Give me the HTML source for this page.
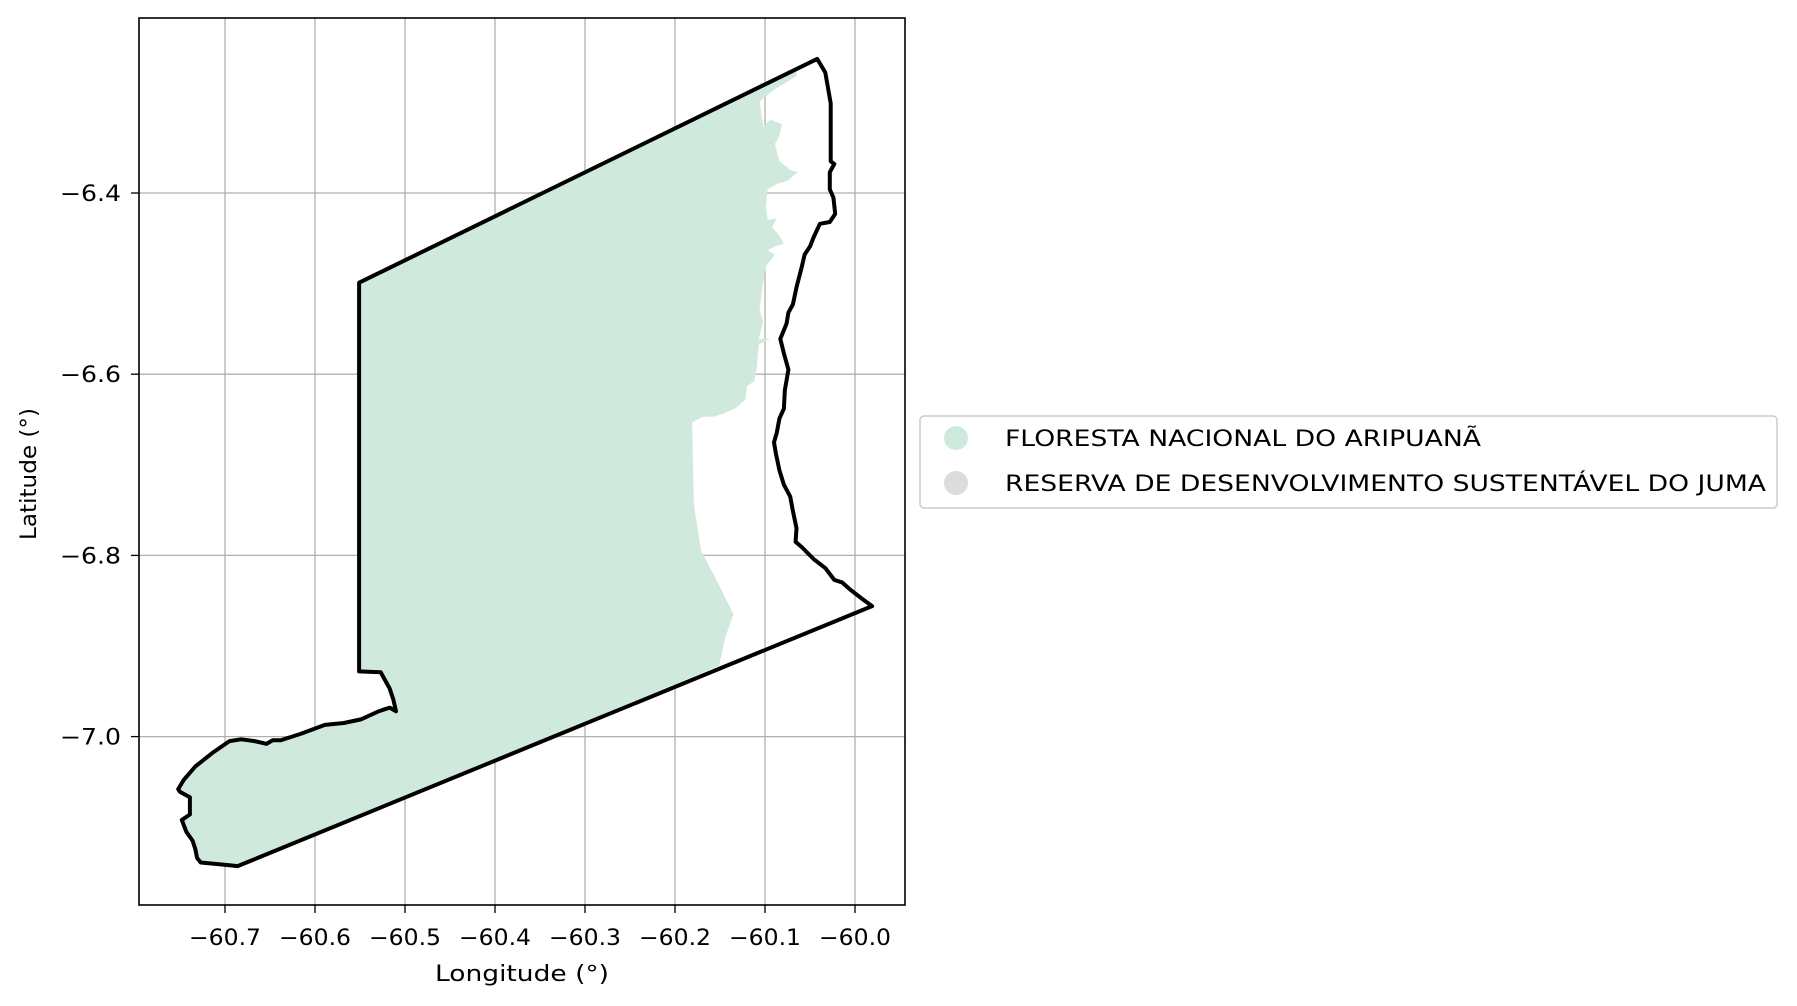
<!DOCTYPE html>
<html><head><meta charset="utf-8"><style>
html,body{margin:0;padding:0;background:#fff;}
svg{display:block;font-family:"DejaVu Sans","Liberation Sans",sans-serif;}
</style></head><body>
<svg id="chart" width="1797" height="1006" viewBox="0 0 1797 1006">
<g id="grid"></g>
<g id="shapes"></g>
<rect x="139" y="18" width="766" height="887" fill="none" stroke="#000" stroke-width="1.6"/>
<g id="ticks"></g>
<text x="522" y="981" font-size="22" text-anchor="middle" textLength="174" lengthAdjust="spacingAndGlyphs">Longitude (°)</text>
<text x="0" y="0" font-size="22" text-anchor="middle" textLength="132" lengthAdjust="spacingAndGlyphs" transform="translate(36,474) rotate(-90)">Latitude (°)</text>
<g>
<rect x="920" y="416" width="857" height="92" rx="4" fill="#fff" stroke="#ccc" stroke-width="1.5"/>
<circle cx="956" cy="438" r="12" fill="#cfeadd"/>
<text x="1005" y="446" font-size="22" textLength="476" lengthAdjust="spacingAndGlyphs">FLORESTA NACIONAL DO ARIPUANÃ</text>
<circle cx="956" cy="483" r="12" fill="#dcdcdc"/>
<text x="1005" y="491" font-size="22" textLength="761" lengthAdjust="spacingAndGlyphs">RESERVA DE DESENVOLVIMENTO SUSTENTÁVEL DO JUMA</text>
</g>
</svg>
<script>
const xTicks=[-60.7,-60.6,-60.5,-60.4,-60.3,-60.2,-60.1,-60.0];
const yTicks=[-6.4,-6.6,-6.8,-7.0];
const outlineLon=[-60.042,-60.033,-60.027,-60.027,-60.023,-60.028,-60.028,-60.024,-60.022,-60.028,-60.039,-60.046,-60.050,-60.056,-60.059,-60.065,-60.069,-60.074,-60.076,-60.083,-60.079,-60.074,-60.078,-60.079,-60.084,-60.087,-60.090,-60.088,-60.084,-60.079,-60.072,-60.069,-60.065,-60.066,-60.059,-60.046,-60.033,-60.023,-60.014,-60.005,-59.992,-59.981,-60.686,-60.695,-60.727,-60.731,-60.733,-60.736,-60.743,-60.748,-60.739,-60.739,-60.750,-60.752,-60.746,-60.733,-60.714,-60.695,-60.682,-60.667,-60.654,-60.647,-60.638,-60.616,-60.589,-60.568,-60.549,-60.529,-60.517,-60.510,-60.513,-60.517,-60.527,-60.551,-60.551];
const outlineLat=[-6.252,-6.267,-6.301,-6.365,-6.368,-6.377,-6.396,-6.405,-6.423,-6.432,-6.434,-6.449,-6.459,-6.468,-6.481,-6.504,-6.523,-6.532,-6.544,-6.561,-6.577,-6.595,-6.618,-6.638,-6.649,-6.665,-6.675,-6.687,-6.706,-6.722,-6.735,-6.751,-6.770,-6.785,-6.791,-6.804,-6.814,-6.827,-6.830,-6.838,-6.848,-6.856,-7.143,-7.142,-7.139,-7.134,-7.124,-7.115,-7.105,-7.092,-7.086,-7.067,-7.061,-7.058,-7.048,-7.033,-7.018,-7.005,-7.003,-7.005,-7.008,-7.004,-7.004,-6.997,-6.987,-6.985,-6.981,-6.972,-6.968,-6.972,-6.959,-6.947,-6.929,-6.928,-6.499];
const forestEastLon=[-60.065,-60.065,-60.090,-60.106,-60.102,-60.094,-60.081,-60.084,-60.089,-60.084,-60.071,-60.064,-60.074,-60.087,-60.097,-60.099,-60.097,-60.087,-60.092,-60.084,-60.079,-60.089,-60.097,-60.089,-60.099,-60.103,-60.106,-60.102,-60.107,-60.094,-60.107,-60.109,-60.112,-60.120,-60.122,-60.132,-60.145,-60.157,-60.169,-60.181,-60.179,-60.171,-60.154,-60.135,-60.144,-60.151];
const forestEastLat=[-6.263,-6.271,-6.286,-6.299,-6.327,-6.319,-6.324,-6.337,-6.346,-6.365,-6.375,-6.377,-6.386,-6.390,-6.396,-6.415,-6.430,-6.428,-6.438,-6.447,-6.456,-6.459,-6.463,-6.468,-6.481,-6.504,-6.529,-6.542,-6.561,-6.561,-6.567,-6.592,-6.608,-6.613,-6.628,-6.637,-6.643,-6.647,-6.647,-6.653,-6.744,-6.795,-6.827,-6.865,-6.890,-6.922];
const X=lon=>855+(lon+60)*900;
const Y=lat=>193+(-6.4-lat)*906;
const NS='http://www.w3.org/2000/svg';
function mk(tag,attrs,parent){const e=document.createElementNS(NS,tag);for(const k in attrs)e.setAttribute(k,attrs[k]);parent.appendChild(e);return e;}
const grid=document.getElementById('grid'),ticks=document.getElementById('ticks'),shapes=document.getElementById('shapes');
xTicks.forEach(v=>{const x=X(v);
 const g=mk('line',{x1:x,x2:x,y1:18,y2:905,stroke:'#b0b0b0','stroke-width':1.3},grid);
 
 
 const t=mk('line',{x1:x,x2:x,y1:905,y2:913,stroke:'#000','stroke-width':1.3},ticks);
 
 
 const l=mk('text',{x:x,y:945,'font-size':22,'text-anchor':'middle',textLength:72,lengthAdjust:'spacingAndGlyphs'},ticks);
 l.textContent=(v<0?'\u2212':'')+Math.abs(v).toFixed(1);
 
 
});
yTicks.forEach(v=>{const y=Y(v);
 const g=mk('line',{x1:139,x2:905,y1:y,y2:y,stroke:'#b0b0b0','stroke-width':1.3},grid);
 
 
 const t=mk('line',{x1:131,x2:139,y1:y,y2:y,stroke:'#000','stroke-width':1.3},ticks);
 
 
 const l=mk('text',{x:121,y:y+8,'font-size':22,'text-anchor':'end',textLength:61,lengthAdjust:'spacingAndGlyphs'},ticks);
 l.textContent=(v<0?'\u2212':'')+Math.abs(v).toFixed(1);
 
 
});
let fp=[];
forestEastLon.forEach((v,i)=>fp.push(X(v)+','+Y(forestEastLat[i])));
for(let i=42;i<outlineLon.length;i++)fp.push(X(outlineLon[i])+','+Y(outlineLat[i]));
const forest=mk('polygon',{points:fp.join(' '),fill:'#cfeadd',stroke:'none'},shapes);


const op=outlineLon.map((v,i)=>X(v)+','+Y(outlineLat[i])).join(' ');
const outline=mk('polygon',{points:op,fill:'none',stroke:'#000','stroke-width':4,'stroke-linejoin':'round'},shapes);


</script>
</body></html>
